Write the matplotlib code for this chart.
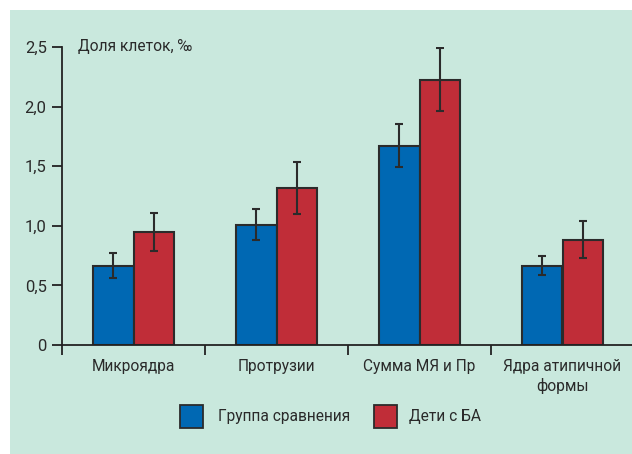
import matplotlib
matplotlib.use("Agg")
import matplotlib.pyplot as plt
from matplotlib.patches import Rectangle
import numpy as np

categories = ["Микроядра", "Протрузии", "Сумма МЯ и Пр", "Ядра атипичной\nформы"]
group_cmp = [0.665, 1.007, 1.672, 0.665]
group_cmp_err = [0.105, 0.13, 0.18, 0.08]
group_ba = [0.948, 1.317, 2.226, 0.883]
group_ba_err = [0.16, 0.22, 0.265, 0.155]
series_names = ["Группа сравнения", "Дети с БА"]
yticks = [0, 0.5, 1.0, 1.5, 2.0, 2.5]
ytick_labels = ["0", "0,5", "1,0", "1,5", "2,0", "2,5"]

plt.rcParams['font.family'] = ['Roboto', 'DejaVu Sans']
FS = 11.2
TC = "#2a2a2a"

W, H = 632, 454
fig = plt.figure(figsize=(W/100, H/100), dpi=100)
fig.patch.set_facecolor("white")
bg = "#c9e8dd"
fig.patches.append(Rectangle((10/W, 0), 1 - 10/W, 1 - 10/H, transform=fig.transFigure,
                             facecolor=bg, edgecolor="none", zorder=-10))

ax = fig.add_axes([62/W, 1 - 345/H, 572/W, 298/H])
ax.set_facecolor("none")
x = np.arange(len(categories))
w = 0.283
blue = "#0068b3"
red = "#c02d38"
edge = "#2b2b2b"
ekw = dict(ecolor="#2b2b2b", elinewidth=1.5, capsize=3, capthick=1.5)
ax.bar(x - w/2, group_cmp, w, color=blue, edgecolor=edge, linewidth=1.5, zorder=2,
       yerr=group_cmp_err, error_kw=ekw)
ax.bar(x + w/2, group_ba, w, color=red, edgecolor=edge, linewidth=1.5, zorder=2,
       yerr=group_ba_err, error_kw=ekw)

ax.set_xlim(-0.5, 3.5)
ax.set_ylim(0, 2.5)
for s in ["top", "right"]:
    ax.spines[s].set_visible(False)
for s in ["left", "bottom"]:
    ax.spines[s].set_color("#222222")
    ax.spines[s].set_linewidth(1.3)

ax.set_yticks(yticks)
ax.set_yticklabels(ytick_labels, fontsize=12, color=TC)
ax.tick_params(axis="y", direction="out", length=7, width=1.3, color="#222222", pad=4)
ax.set_xticks([-0.5, 0.5, 1.5, 2.5])
ax.set_xticklabels([])
ax.tick_params(axis="x", direction="out", length=7, width=1.3, color="#222222")

for xi, lab in zip(x, categories):
    ax.text(xi, -0.12, lab, ha="center", va="top", fontsize=FS, color=TC,
            linespacing=1.25, transform=ax.transData, clip_on=False)

fig.text(78/W, 1 - 47/H, "Доля клеток, ‰", ha="left", va="center", fontsize=FS, color=TC)

# legend drawn in figure pixel coordinates
sq = 23
for (lx, tx), col, name in zip([(180, 218), (374, 409)], [blue, red], series_names):
    fig.patches.append(Rectangle((lx/W, 1 - 428/H), sq/W, sq/H, transform=fig.transFigure,
                                 facecolor=col, edgecolor=edge, linewidth=1.3))
    fig.text(tx/W, 1 - 416.5/H, name, ha="left", va="center", fontsize=FS, color=TC)

fig.savefig("out.png", dpi=100)
